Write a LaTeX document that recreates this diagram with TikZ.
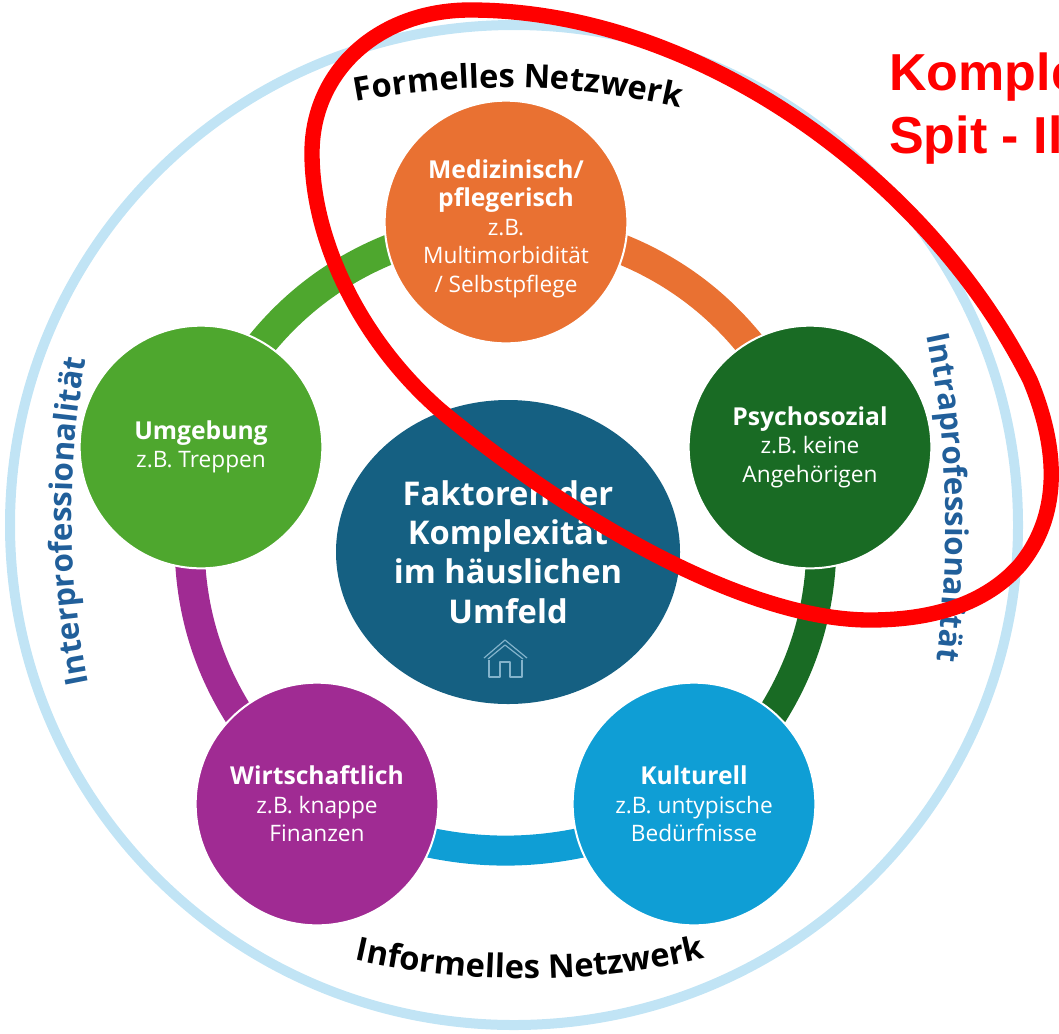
\documentclass[tikz,border=0pt]{standalone}
\usepackage{fontspec}
\setmainfont{Open Sans}
\newfontfamily\redfont{Liberation Sans}
\newfontfamily\arcfont{Open Sans}
\usetikzlibrary{backgrounds,decorations.text,shapes.geometric}
\definecolor{cOrange}{HTML}{E97132}
\definecolor{cDGreen}{HTML}{196B24}
\definecolor{cBlue}{HTML}{0F9ED5}
\definecolor{cPurple}{HTML}{A02B93}
\definecolor{cGreen}{HTML}{4EA72E}
\definecolor{cCentre}{HTML}{156082}
\definecolor{cRing}{HTML}{C1E4F5}
\definecolor{cSide}{HTML}{215F9A}
\definecolor{cHome}{HTML}{83B3CB}
\newcommand{\hdf}{\bfseries\fontsize{18.5}{21.5}\selectfont}
\newcommand{\szf}{\mdseries\fontsize{17}{21}\selectfont}
\tikzset{
  x=0.75pt,y=-0.75pt,
  factor/.style={circle,draw=white,line width=1.5pt,inner sep=0pt,minimum size=182pt,text=white,align=center,font=\fontsize{15}{21.3}\selectfont},
  link/.style={line width=22.5pt,line cap=butt},
}
\begin{document}
\begin{tikzpicture}
\useasboundingbox (0,0) rectangle (1059,1033);
\clip (0,0) rectangle (1059,1033);
\draw[cRing,line width=7.5pt] (514,525) ellipse [x radius=504,y radius=500];

\node[factor,fill=cOrange] (med) at (506,222) {\hdf\rule{0pt}{24pt}Medizinisch/\\\hdf pflegerisch\\\szf z.B.\\\szf Multimorbidität\\\szf / Selbstpflege};
\node[factor,fill=cDGreen] (psy) at (810,447) {\hdf Psychosozial\\\szf z.B. keine\\\szf Angehörigen};
\node[factor,fill=cBlue] (kul) at (694,804) {\hdf Kulturell\\\szf z.B. untypische\\\szf Bedürfnisse};
\node[factor,fill=cPurple] (wir) at (317,804) {\hdf Wirtschaftlich\\\szf z.B. knappe\\\szf Finanzen};
\node[factor,fill=cGreen] (umg) at (201,447) {\hdf Umgebung\\\szf z.B. Treppen};
\node[ellipse,fill=cCentre,inner sep=0pt,minimum width=258pt,minimum height=228pt,text=white,align=center,font=\bfseries\fontsize{24.5}{29.5}\selectfont] (cen) at (508,552) {Faktoren der\\Komplexität\\im häuslichen\\Umfeld};

\begin{pgfonlayer}{background}
\draw[link,cOrange] (med.center) to[bend left=31] (psy.center);
\draw[link,cDGreen] (psy.center) to[bend left=31] (kul.center);
\draw[link,cBlue] (kul.center) to[bend left=25] (wir.center);
\draw[link,cPurple] (wir.center) to[bend left=31] (umg.center);
\draw[link,cGreen] (umg.center) to[bend left=31] (med.center);
\end{pgfonlayer}

% house icon
\draw[cHome,line width=0.9pt,line join=round] (484,658) -- (505,640) -- (527,658) (488,659) -- (505,645) -- (523,659);
\draw[cHome,line width=0.9pt,line join=round] (489,660) -- (489,677) -- (500,677) -- (500,662) -- (510,662) -- (510,677) -- (522,677) -- (522,660);

\path[decorate,decoration={text along path,text align=center,text={|\arcfont\bfseries\fontsize{24.5}{24.5}\selectfont\color{black}|Informelles Netzwerk}}] (355,960) .. controls (465,985) and (595,985) .. (705,958);
\path[decorate,decoration={text along path,text align=center,text={|\arcfont\bfseries\fontsize{24.5}{24.5}\selectfont\color{black}|Formelles Netzwerk}}] (354,102) .. controls (460,82) and (570,82) .. (682,108);
\path[decorate,decoration={text along path,text align=center,text={|\arcfont\bfseries\fontsize{23.5}{23.5}\selectfont\color{cSide}|Intraprofessionalität}}] (926,332) .. controls (950,440) and (950,560) .. (936,664);
\path[decorate,decoration={text along path,text align=center,text={|\arcfont\bfseries\fontsize{23.5}{23.5}\selectfont\color{cSide}|Interprofessionalität}}] (90,692) .. controls (66,580) and (66,460) .. (88,350);

\node[anchor=base west,inner sep=0pt,text=red,font=\redfont\bfseries\fontsize{39}{39}\selectfont] (t1) at (889,90) {Komple};
\node[anchor=base west,inner sep=0pt,text=red,font=\redfont\bfseries\fontsize{39}{39}\selectfont] (t2) at (889,153) {Spit - Il};

\draw[red,line width=11.5pt,line join=round] (312,153) .. controls (312,70) and (380,10) .. (470,10)
  .. controls (700,10) and (930,180) .. (1030,380)
  .. controls (1055,440) and (1065,510) .. (1020,565)
  .. controls (980,610) and (920,620) .. (870,620)
  .. controls (740,620) and (560,510) .. (440,410)
  .. controls (360,340) and (312,240) .. cycle;
\end{tikzpicture}
\end{document}
